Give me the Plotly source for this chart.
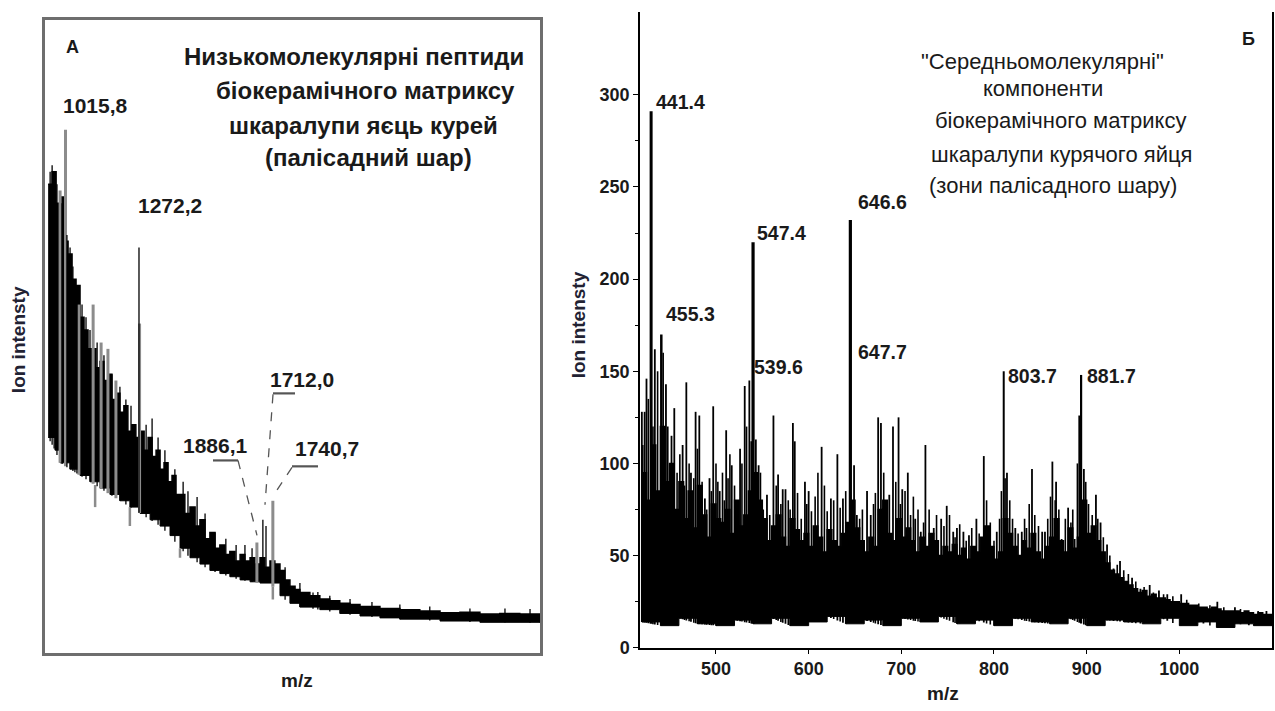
import numpy as np
import plotly.graph_objects as go

W, H = 1275, 711
FONT = "Liberation Sans, Arial, sans-serif"


def px(x):
    return x / W


def py(y):
    return 1 - y / H


# ---------------- Panel A (left): low-molecular peptides ----------------
a_body_mz = [953, 967, 981, 995, 1009, 1023, 1037, 1051, 1065, 1079, 1093, 1107, 1121, 1135,
             1149, 1163, 1177, 1191, 1205, 1219, 1233, 1247, 1261, 1276, 1290, 1304, 1318, 1332,
             1346, 1360, 1374, 1388, 1402, 1416, 1433, 1451, 1469, 1486, 1504, 1521, 1539, 1556,
             1574, 1591, 1609, 1627, 1644, 1662, 1679, 1697, 1714, 1732, 1749, 1767, 1784, 1802,
             1820, 1837, 1872, 1907, 1942, 1977, 2013, 2048, 2118, 2188, 2258, 2329, 2399, 2469,
             2539, 2609, 2680]
a_body_top = [74, 76, 71, 72, 65, 63, 59, 58, 53, 51, 48, 48, 45, 46, 43, 44, 40, 41, 38, 39, 35, 36,
              34, 35, 32, 34, 31, 32, 29, 30, 27, 28, 25, 25, 22, 23, 20, 21, 18, 19, 16.5, 17, 15.5,
              16, 14.5, 15.5, 14.5, 15, 14, 15, 13.5, 14.5, 14, 13, 11.5, 10.5, 10, 9.5, 9, 8.5, 8.2,
              7.8, 7.6, 7.3, 7, 6.8, 6.6, 6.3, 6.4, 6.1, 6.2, 6.1, 6.0]
a_low_mz = [953, 977, 995, 1030, 1065, 1100, 1135, 1170, 1205, 1240, 1276, 1311, 1346, 1381, 1416,
            1451, 1486, 1521, 1556, 1591, 1627, 1662, 1697, 1732, 1767, 1802, 1837, 1907, 1977,
            2048, 2118, 2188, 2329, 2469, 2680]
a_low = [34, 32, 30, 29, 28, 27, 26, 25, 24, 23, 22, 21, 20, 18.5, 16.5, 15, 14, 13, 12.5, 12, 11.5,
         11.2, 11, 11, 9, 7.8, 7.2, 6.8, 6.2, 5.8, 5.5, 5.3, 5, 4.8, 4.7]

# thin black spikes
a_spk_mz = [960, 967, 974, 984, 1002, 1019, 1030, 1040, 1047, 1054, 1072, 1086, 1100, 1125, 1149,
            1177, 1205, 1226, 1244, 1272, 1297, 1318, 1339, 1363, 1398, 1427, 1444, 1476, 1504,
            1539, 1577, 1613, 1644, 1669, 1707, 1718, 1785, 1837, 1883, 1900, 1942, 2013, 2090,
            2188, 2293, 2434, 2557, 2645]
a_spk_h = [76, 77, 75, 74, 71, 66, 64, 61, 59, 58, 55, 53, 51, 49, 47, 44, 42, 40, 39, 64, 36, 37, 34,
           32, 29, 27, 25.5, 24.6, 22, 19, 18, 17, 17, 16.5, 21, 20, 13.5, 11, 9.5, 9.6, 9, 8.5, 8,
           7.6, 7.3, 7, 7, 6.9]
# gray (lighter) spikes
a_gray_mz = [995, 1014, 1061, 1111, 1139, 1163, 1191, 1274, 1686, 1742]
a_gray_h = [73, 82.6, 55, 55, 49, 48, 43, 52, 17.4, 24]
# gray downward dips
a_dip_mz = [1118, 1240, 1416, 1742]
a_dip_h = [23, 20, 15, 8.4]

# ---------------- Panel Б (right): middle-molecular components ----------------
b_body_mz = [420, 425, 430, 435, 440, 445, 450, 455, 460, 465, 470, 475, 480, 485, 490, 495, 500,
             505, 510, 515, 520, 525, 530, 535, 540, 545, 550, 555, 560, 565, 570, 575, 580, 585,
             590, 595, 600, 605, 610, 615, 620, 625, 630, 635, 640, 645, 650, 655, 660, 665, 670,
             675, 680, 685, 690, 695, 700, 705, 710, 715, 720, 725, 730, 735, 740, 745, 750, 755,
             760, 765, 770, 775, 780, 785, 790, 795, 800, 805, 810, 815, 820, 825, 830, 835, 840,
             845, 850, 855, 860, 865, 870, 875, 880, 885, 890, 895, 900, 905, 910, 915, 920, 925,
             930, 935, 940, 945, 950, 955, 960, 965, 970, 975, 980, 985, 990, 995, 1000, 1005, 1010,
             1015, 1020, 1025, 1030, 1035, 1040, 1045, 1050, 1055, 1060, 1065, 1070, 1075, 1080,
             1085, 1090, 1095, 1100]
b_body_top = [95, 80, 110, 85, 120, 90, 100,
              75, 90, 70, 85, 65, 88, 72, 60, 78, 70,
              68, 75, 62, 80, 66, 72, 85, 95, 80, 70,
              58, 66, 72, 60, 55, 70, 64, 58, 62, 55,
              66, 60, 52, 64, 58, 55, 62, 68, 80, 65,
              58, 52, 60, 55, 75, 80, 62, 58, 70, 60,
              65, 58, 52, 60, 55, 62, 58, 50, 55, 52,
              56, 50, 54, 48, 55, 52, 60, 66, 55, 48,
              52, 70, 62, 55, 50, 58, 54, 62, 52, 48,
              55, 60, 70, 58, 52, 65, 54, 60, 80, 62,
              66, 58, 52, 46, 42, 40, 38, 36, 34, 32,
              30, 31, 28, 29, 27, 27, 26, 25, 25, 24,
              24, 23, 23, 22, 22, 21, 22, 21, 20, 20,
              20, 20, 19, 20, 19, 18, 19, 18, 18, 18]
b_low_mz = [420, 440, 460, 480, 500, 520, 540, 560, 580, 600, 620, 640, 660, 680, 700, 720, 740,
            760, 780, 800, 820, 840, 860, 880, 900, 920, 940, 960, 980, 1000, 1020, 1040, 1060,
            1080, 1100]
b_low = [14, 12, 16, 13, 12, 15, 13, 16, 12, 14, 17, 13, 15, 12, 16, 14, 17, 13, 15, 12, 16, 14, 13,
         16, 12, 15, 14, 13, 16, 12, 14, 11, 13, 12, 14]

# clearly visible individual peaks
b_spk_mz = [420, 423, 425, 434, 446, 452, 455, 464, 468, 473, 478, 482, 488, 493, 497, 504, 511, 517,
            526, 531, 536, 543, 546, 555, 562, 567, 572, 575, 583, 585, 596, 600, 614, 624, 631, 637,
            649, 652, 663, 667, 675, 678, 687, 691, 697, 701, 707, 715, 721, 726, 735, 743, 749, 756,
            760, 767, 773, 781, 789, 803, 814, 823, 830, 835, 841, 852, 855, 863, 867, 873, 880, 887,
            892, 897, 910, 915, 922, 929, 936, 949, 958, 968, 978, 987, 1002, 1016, 1026, 1041, 1060,
            1075, 1094]
b_spk_h = [128, 128, 146, 162, 143, 115, 130, 110, 144, 95, 128, 126, 81, 92, 131, 85, 118, 99, 108,
           142, 145, 113, 99, 83, 126, 94, 86, 86, 122, 112, 90, 85, 109, 81, 105, 81, 99, 72, 85, 72,
           125, 122, 83, 120, 125, 86, 95, 70, 63, 110, 65, 70, 77, 63, 65, 63, 61, 70, 104, 63, 95,
           65, 63, 65, 97, 63, 63, 101, 90, 59, 76, 59, 126, 97, 83, 68, 56, 43, 47, 38, 32, 34, 31,
           29, 29, 23, 22, 25, 22, 19, 20]
# dense smaller peaks between them
b_fill_mz = [421, 427, 432, 437, 443, 448, 450, 458, 461, 466, 471, 476, 480, 485, 490, 495, 500, 502,
             507, 509, 513, 515, 520, 523, 528, 533, 538, 548, 551, 558, 565, 570, 578, 580, 588, 592,
             598, 603, 607, 610, 617, 620, 627, 634, 640, 655, 658, 670, 672, 681, 684, 694, 699, 704,
             710, 713, 718, 724, 730, 733, 738, 746, 752, 758, 763, 770, 776, 784, 792, 796, 800, 806,
             808, 812, 817, 820, 826, 833, 838, 844, 848, 858, 861, 866, 870, 877, 883, 885, 890, 899,
             902, 906, 912, 918, 925, 933, 940, 945, 953, 962, 972, 983, 993, 1008, 1021, 1033, 1048,
             1066, 1085]
b_fill_h = [110, 135, 120, 150, 160, 120, 100, 95, 105, 88, 100, 92, 108, 90, 75, 85, 100, 90, 95, 80,
            92, 105, 88, 78, 100, 120, 112, 95, 75, 72, 88, 78, 80, 75, 84, 70, 78, 74, 82, 95, 88, 74,
            80, 76, 85, 70, 75, 78, 84, 95, 80, 90, 78, 85, 72, 82, 75, 68, 75, 62, 72, 66, 72, 60, 67,
            58, 65, 62, 80, 68, 58, 70, 85, 92, 80, 70, 62, 70, 78, 72, 66, 70, 82, 80, 75, 70, 68, 75,
            100, 90, 78, 72, 70, 60, 50, 45, 42, 40, 36, 33, 30, 29, 28, 26, 24, 23, 22, 21, 20]
# labelled main peaks
b_main_mz = [430, 441, 540, 645, 810.5, 894]
b_main_h = [291, 170, 220, 232, 150, 148]
b_main_w = [3, 2.5, 3.2, 3.2, 2, 2.2]


def spikes(mzs, tops, base_mz, base_v):
    bases = np.interp(mzs, base_mz, base_v)
    xs, ys = [], []
    for m, t, b in zip(mzs, tops, bases):
        xs += [m, m, None]
        ys += [b, t, None]
    return xs, ys


fig = go.Figure()

# ---- panel A traces
fig.add_trace(go.Scatter(x=a_low_mz, y=a_low, mode="lines", line=dict(color="black", width=1, shape="hv"),
                         xaxis="x", yaxis="y", hoverinfo="skip"))
fig.add_trace(go.Scatter(x=a_body_mz, y=a_body_top, mode="lines", fill="tonexty", fillcolor="black",
                         line=dict(color="black", width=1.5, shape="hv"), xaxis="x", yaxis="y",
                         hoverinfo="skip"))
xs, ys = spikes(a_gray_mz, a_gray_h, a_low_mz, a_low)
fig.add_trace(go.Scatter(x=xs, y=ys, mode="lines", line=dict(color="#8c8c8c", width=3),
                         xaxis="x", yaxis="y", hoverinfo="skip"))
xs, ys = spikes(a_dip_mz, a_dip_h, a_low_mz, a_low)
fig.add_trace(go.Scatter(x=xs, y=ys, mode="lines", line=dict(color="#8c8c8c", width=2.5),
                         xaxis="x", yaxis="y", hoverinfo="skip"))
xs, ys = spikes(a_spk_mz, a_spk_h, a_low_mz, a_low)
fig.add_trace(go.Scatter(x=xs, y=ys, mode="lines", line=dict(color="black", width=1.3),
                         xaxis="x", yaxis="y", hoverinfo="skip"))

# ---- panel B traces
fig.add_trace(go.Scatter(x=b_low_mz, y=b_low, mode="lines", line=dict(color="black", width=1, shape="hv"),
                         xaxis="x2", yaxis="y2", hoverinfo="skip"))
fig.add_trace(go.Scatter(x=b_body_mz, y=b_body_top, mode="lines", fill="tonexty", fillcolor="black",
                         line=dict(color="black", width=1.5, shape="hv"), xaxis="x2", yaxis="y2",
                         hoverinfo="skip"))
xs, ys = spikes(b_fill_mz, b_fill_h, b_low_mz, b_low)
fig.add_trace(go.Scatter(x=xs, y=ys, mode="lines", line=dict(color="black", width=1.6),
                         xaxis="x2", yaxis="y2", hoverinfo="skip"))
xs, ys = spikes(b_spk_mz, b_spk_h, b_low_mz, b_low)
fig.add_trace(go.Scatter(x=xs, y=ys, mode="lines", line=dict(color="black", width=1.8),
                         xaxis="x2", yaxis="y2", hoverinfo="skip"))
for m, h, w in zip(b_main_mz, b_main_h, b_main_w):
    xs, ys = spikes([m], [h], b_low_mz, b_low)
    fig.add_trace(go.Scatter(x=xs, y=ys, mode="lines", line=dict(color="black", width=w),
                             xaxis="x2", yaxis="y2", hoverinfo="skip"))

# ---- axes
TICKFONT = dict(size=18, color="#1a1a1a", family=FONT)
fig.update_layout(
    width=W, height=H, margin=dict(l=0, r=0, t=0, b=0),
    paper_bgcolor="white", plot_bgcolor="white", showlegend=False,
    font=dict(family=FONT, color="#1a1a1a"),
    xaxis=dict(domain=[px(45), px(540)], range=[942, 2680], anchor="y", showline=True, mirror=True,
               linecolor="#6e6e6e", linewidth=2.5, showticklabels=False, ticks="", showgrid=False,
               zeroline=False, fixedrange=True),
    yaxis=dict(domain=[py(662), py(20)], range=[0, 100], anchor="x", showline=True, mirror=True,
               linecolor="#6e6e6e", linewidth=2.5, showticklabels=False, ticks="", showgrid=False,
               zeroline=False, fixedrange=True),
    xaxis2=dict(domain=[px(640), px(1272)], range=[418, 1100], anchor="y2", showline=True,
                linecolor="black", linewidth=1.5, ticks="outside", ticklen=4, tickcolor="black",
                tickvals=[500, 600, 700, 800, 900, 1000],
                ticktext=["<b>500</b>", "<b>600</b>", "<b>700</b>", "<b>800</b>", "<b>900</b>", "<b>1000</b>"],
                tickfont=TICKFONT, showgrid=False, zeroline=False),
    yaxis2=dict(domain=[py(657), py(12)], range=[0, 345], anchor="x2", showline=True, mirror=True,
                linecolor="black", linewidth=1.5, ticks="outside", ticklen=5, tickcolor="black",
                tickvals=[0, 50, 100, 150, 200, 250, 300],
                ticktext=["<b>0</b>", "<b>50</b>", "<b>100</b>", "<b>150</b>", "<b>200</b>", "<b>250</b>", "<b>300</b>"],
                minor=dict(tickvals=[25, 75, 125, 175, 225, 275], ticks="outside", ticklen=3,
                           tickcolor="black"),
                tickfont=TICKFONT, showgrid=False, zeroline=False),
)

ann = []


def text(x, y, s, size, bold=True, xanchor="center", angle=0, color="#1a1a1a"):
    ann.append(dict(x=px(x), y=py(y), xref="paper", yref="paper", text=(f"<b>{s}</b>" if bold else s),
                    showarrow=False, xanchor=xanchor, yanchor="middle", textangle=angle,
                    font=dict(size=size, family=FONT, color=color)))


# Panel A texts
text(72, 48, "A", 18)
for s, x, y in [("Низькомолекулярні пептиди", 354, 57), ("біокерамічного матриксу", 365, 92),
                ("шкаралупи яєць курей", 363, 127), ("(палісадний шар)", 368, 160)]:
    text(x, y, s, 24)
text(96, 107, "1015,8", 21)
text(170, 208, "1272,2", 21)
text(302, 385, "1712,0", 21)
text(215, 452, "1886,1", 21)
text(327, 455, "1740,7", 21)
text(18, 345, "Ion intensty", 19, angle=-90, color="#222233")
text(297, 690, "m/z", 19)

# Panel Б texts
text(1248, 40, "Б", 18)
for s, x, y in [('"Середньомолекулярні"', 1042, 62), ("компоненти", 1043, 90),
                ("біокерамічного матриксу", 1060, 122), ("шкаралупи курячого яйця", 1061, 157),
                ("(зони палісадного шару)", 1053, 188)]:
    text(x, y, s, 22, bold=False)
for s, x, y in [("441.4", 681, 103), ("455.3", 690, 318), ("547.4", 782, 236), ("539.6", 778, 372),
                ("646.6", 882, 205), ("647.7", 882, 357), ("803.7", 1032, 381), ("881.7", 1111, 381)]:
    text(x, y, s, 19.5)
text(578, 330, "Ion intensty", 19, angle=-90, color="#222233")
text(943, 703, "m/z", 19)

# leader lines for panel A labels
shapes = []
for (x0, y0, x1, y1, dash, w) in [
    (213, 467, 238, 467, "solid", 2.2), (238, 467, 257, 543, "dash", 1.3),
    (273, 399, 295, 399, "solid", 2.2), (273, 400, 265, 512, "dash", 1.3),
    (292, 473, 318, 473, "solid", 2.2), (292, 474, 277, 497, "dash", 1.3),
]:
    shapes.append(dict(type="line", xref="paper", yref="paper", x0=px(x0), y0=py(y0), x1=px(x1),
                       y1=py(y1), line=dict(color="#555555", width=w, dash=dash)))

fig.update_layout(annotations=ann, shapes=shapes)
fig.write_html("out.html")
